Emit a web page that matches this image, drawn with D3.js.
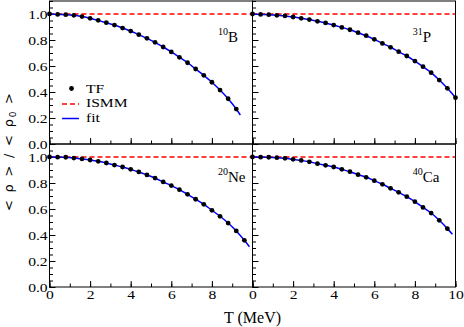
<!DOCTYPE html>
<html lang="en">
<head>
    <meta charset="UTF-8">
    <style>
        body { margin: 0; background: #fff; }
        svg text { font-family: "Liberation Serif", "Times New Roman", serif; fill: #000; }
        .tick line { stroke: #000; }
    </style>
    <script src="https://d3js.org/d3.v7.min.js"></script>
    <title>rho ratio vs temperature</title>
</head>
<body>
    <svg width="464" height="327"></svg>

    <script>

        // temperatures of the TF points (MeV)
        var tfT = [0, 0.4, 0.8, 1.2, 1.6, 2.0, 2.4, 2.8, 3.2, 3.6, 4.0, 4.4, 4.8,
                   5.2, 5.6, 6.0, 6.4, 6.8, 7.2, 7.6, 8.0, 8.4, 8.8, 9.2, 9.6, 10.0];

        // <rho>/<rho0>, one array per nucleus
        var tfB10 = [1.0, 0.997, 0.995, 0.990, 0.980, 0.967, 0.951, 0.933, 0.915, 0.892, 0.869, 0.841,
                     0.813, 0.782, 0.746, 0.708, 0.667, 0.625, 0.577, 0.528, 0.475, 0.415, 0.348, 0.269];
        var tfP31 = [1.0, 0.997, 0.995, 0.990, 0.985, 0.977, 0.967, 0.957, 0.944, 0.931, 0.915, 0.897,
                     0.879, 0.856, 0.833, 0.805, 0.774, 0.744, 0.710, 0.677, 0.638, 0.595, 0.549, 0.492,
                     0.428, 0.356];
        var tfNe20 = [1.0, 0.999, 0.998, 0.992, 0.985, 0.977, 0.967, 0.954, 0.938, 0.923, 0.905, 0.885,
                      0.862, 0.838, 0.808, 0.780, 0.749, 0.713, 0.675, 0.636, 0.590, 0.544, 0.492, 0.431,
                      0.359];
        var tfCa40 = [1.0, 0.999, 0.998, 0.995, 0.990, 0.982, 0.974, 0.963, 0.949, 0.936, 0.923, 0.905,
                      0.887, 0.864, 0.844, 0.818, 0.790, 0.759, 0.728, 0.695, 0.656, 0.612, 0.569, 0.513,
                      0.449];

        // where each fit curve ends: [T, value]
        var fitEndB10 = [9.4, 0.223];
        var fitEndP31 = [10.0, 0.356];
        var fitEndNe20 = [9.85, 0.31];
        var fitEndCa40 = [9.85, 0.405];

        var ismmValue = 1.0;

        var nuclei = ["B", "P", "Ne", "Ca"];
        var massNumbers = ["10", "31", "20", "40"];

        var xTickLabels = [0, 2, 4, 6, 8, 10];
        var yTickLabels = [0.0, 0.2, 0.4, 0.6, 0.8, 1.0];

        var legendNames = ["TF", "ISMM", "fit"];

        // layout
        var svg = d3.select("svg"),
            padLeft = 49.5,
            padTop = 1,
            panelW = 203,
            panelH = 143;

        var x = d3.scaleLinear().domain([0, 10]).range([0, panelW]);
        var y = d3.scaleLinear().domain([0, 1.1]).range([panelH, 0]);

        var panels = [
            { tf: tfB10, end: fitEndB10, col: 0, row: 0, lab: [8.3, 0.785] },
            { tf: tfP31, end: fitEndP31, col: 1, row: 0, lab: [7.9, 0.785] },
            { tf: tfNe20, end: fitEndNe20, col: 0, row: 1, lab: [8.3, 0.81] },
            { tf: tfCa40, end: fitEndCa40, col: 1, row: 1, lab: [7.9, 0.81] }
        ];

        var line = d3.line()
                     .x(function(d) { return x(d[0]); })
                     .y(function(d) { return y(d[1]); })
                     .curve(d3.curveMonotoneX);

        svg.append("defs").append("clipPath").attr("id", "clip")
           .append("rect").attr("width", panelW).attr("height", panelH);

        // the tick/legend text in the source is a bit wide, so stretch it
        function widen(sel, k) {
            sel.attr("transform", "scale(" + k + ",1)");
        }

        panels.forEach(function(p, i) {
            var g = svg.append("g")
                       .attr("transform", "translate(" + (padLeft + p.col * panelW) + "," + (padTop + p.row * panelH) + ")");

            var pts = p.tf.map(function(v, k) { return [tfT[k], v]; });
            var fitPts = pts.slice();
            if (p.end[0] > pts[pts.length - 1][0]) fitPts.push(p.end);

            // minor ticks
            g.append("g")
             .call(d3.axisLeft(y).tickValues(d3.range(0, 1.101, 0.05)).tickSize(-3.5).tickFormat(""))
             .call(function(a) { a.select(".domain").remove(); });
            g.append("g")
             .attr("transform", "translate(0," + panelH + ")")
             .call(d3.axisBottom(x).ticks(10).tickSize(-3.5).tickFormat(""))
             .call(function(a) { a.select(".domain").remove(); });

            // major ticks + labels
            var yAx = g.append("g")
                       .call(d3.axisLeft(y).tickValues(yTickLabels).tickSize(-6).tickPadding(1.5)
                              .tickFormat(p.col == 0 ? d3.format(".1f") : ""));
            yAx.select(".domain").remove();
            yAx.selectAll("text").style("font-size", "12.5px").call(widen, 1.25);

            var xLabs = p.col == 0 ? xTickLabels.slice(0, 5) : xTickLabels;
            var xAx = g.append("g")
                       .attr("transform", "translate(0," + panelH + ")")
                       .call(d3.axisBottom(x).tickValues(xTickLabels).tickSize(-6).tickPadding(3.5)
                              .tickFormat(function(d) {
                                  return (p.row == 1 && xLabs.indexOf(d) >= 0) ? d : "";
                              }));
            xAx.select(".domain").remove();
            xAx.selectAll("text").style("font-size", "12.5px").call(widen, 1.25);

            var plot = g.append("g").attr("clip-path", "url(#clip)");

            // ISMM
            plot.append("line")
                .attr("x1", x(0)).attr("x2", x(10))
                .attr("y1", y(ismmValue)).attr("y2", y(ismmValue))
                .attr("stroke", "#ff0000").attr("stroke-width", 1.5)
                .attr("stroke-dasharray", "5,3");

            // fit
            plot.append("path")
                .datum(fitPts)
                .attr("d", line)
                .attr("fill", "none")
                .attr("stroke", "#0000ff")
                .attr("stroke-width", 1.5);

            // TF points
            g.selectAll(".dot")
             .data(pts)
             .enter().append("circle")
             .attr("cx", function(d) { return x(d[0]); })
             .attr("cy", function(d) { return y(d[1]); })
             .attr("r", 2.4)
             .attr("fill", "#000");

            // frame
            g.append("rect")
             .attr("width", panelW).attr("height", panelH)
             .attr("fill", "none").attr("stroke", "#000").attr("stroke-width", 1);

            // nucleus label
            var t = g.append("text")
                     .attr("x", x(p.lab[0]))
                     .attr("y", y(p.lab[1]));
            t.append("tspan").attr("font-size", "10px").attr("dy", -7).text(massNumbers[i]);
            t.append("tspan").attr("font-size", "15px").attr("dy", 7).text(nuclei[i]);
        });

        // legend
        var lg = svg.append("g").attr("transform", "translate(62,0)");
        lg.append("circle").attr("cx", 9.5).attr("cy", 88.5).attr("r", 2.4).attr("fill", "#000");
        lg.append("line").attr("x1", 0).attr("x2", 17).attr("y1", 104).attr("y2", 104)
          .attr("stroke", "#ff0000").attr("stroke-width", 1.5).attr("stroke-dasharray", "5,3");
        lg.append("line").attr("x1", 0).attr("x2", 17).attr("y1", 118.5).attr("y2", 118.5)
          .attr("stroke", "#0000ff").attr("stroke-width", 1.5);
        lg.selectAll(".lt")
          .data(legendNames)
          .enter().append("text")
          .attr("x", 24 / 1.2)
          .attr("y", function(d, i) { return 93 + i * 14.5; })
          .style("font-size", "13px")
          .call(widen, 1.2)
          .text(function(d) { return d; });

        // axis titles
        svg.append("text")
           .attr("x", padLeft + panelW)
           .attr("y", 323)
           .attr("text-anchor", "middle")
           .style("font-size", "16px")
           .text("T (MeV)");

        var yt = svg.append("text")
                    .attr("transform", "translate(13," + (padTop + panelH + 8) + ") rotate(-90)")
                    .attr("text-anchor", "middle")
                    .attr("textLength", 118)
                    .attr("lengthAdjust", "spacing")
                    .style("font-family", "DejaVu Sans")
                    .style("font-size", "13px");
        yt.append("tspan").text("< ρ > / < ρ");
        yt.append("tspan").attr("font-size", "9px").attr("dy", 3).text("0");
        yt.append("tspan").attr("dy", -3).text(" >");

    </script>
</body>
</html>
